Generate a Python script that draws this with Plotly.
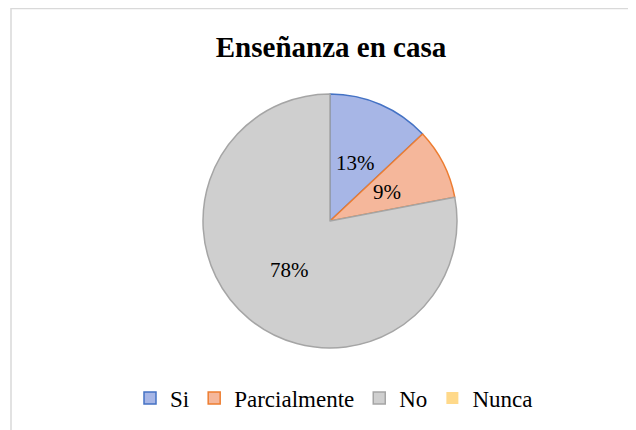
import math
import plotly.graph_objects as go

categories = ["Si", "Parcialmente", "No", "Nunca"]
values = [13, 9, 78, 0]
fill_colors = ["#A7B6E6", "#F5B79B", "#CFCFCF", "#FFD98A"]
line_colors = ["#4472C4", "#ED7D31", "#A5A5A5", "#FFC000"]

W, H = 636, 430
OFF = 8  # page body margin offset
cx, cy, r = 330 - OFF, 221 - OFF, 127

fig = go.Figure(go.Pie(
    labels=categories,
    values=values,
    sort=False,
    direction="clockwise",
    rotation=0,
    marker=dict(colors=fill_colors,
                line=dict(color=line_colors, width=[1.5 if v > 0 else 0 for v in values])),
    textinfo="none",
    domain=dict(x=[(cx - r) / W, (cx + r) / W], y=[1 - (cy + r) / H, 1 - (cy - r) / H]),
    hoverinfo="label+percent",
))

# data labels placed along each slice's mid-angle (Excel best-fit style)
total = sum(values)
annotations = []
cum = 0.0
for cat, v in zip(categories, values):
    if v > 0:
        mid = (cum + v / 2) / total * 2 * math.pi
        lx = cx + 0.5 * r * math.sin(mid)
        ly = cy - 0.5 * r * math.cos(mid)
        annotations.append(dict(
            x=lx / W, y=1 - ly / H, xref="paper", yref="paper",
            text=f"{round(v / total * 100)}%", showarrow=False,
            xanchor="center", yanchor="middle",
            font=dict(family="Liberation Serif", size=21, color="#000000")))
    cum += v

fig.update_layout(
    width=W, height=H,
    margin=dict(l=0, r=0, t=0, b=0),
    paper_bgcolor="white",
    font=dict(family="Liberation Serif", color="#000000"),
    title=dict(text="<b>Enseñanza en casa</b>", x=(331 - OFF) / W, xanchor="center",
               y=1 - (47 - OFF) / H, yanchor="middle",
               font=dict(family="Liberation Serif", size=29, color="#000000")),
    showlegend=True,
    legend=dict(orientation="h", x=(334 - OFF) / W, xanchor="center",
                y=1 - (398 - OFF) / H, yanchor="middle",
                font=dict(family="Liberation Serif", size=23, color="#000000"),
                itemwidth=30, traceorder="normal"),
    annotations=annotations,
    shapes=[dict(type="rect", xref="paper", yref="paper",
                 x0=(11 - OFF) / W, x1=(W + 10) / W, y0=-0.05, y1=1 - (8.5 - OFF) / H,
                 line=dict(color="#D9D9D9", width=1.5), fillcolor="rgba(0,0,0,0)", layer="below")],
)

fig.write_html("out.html")
